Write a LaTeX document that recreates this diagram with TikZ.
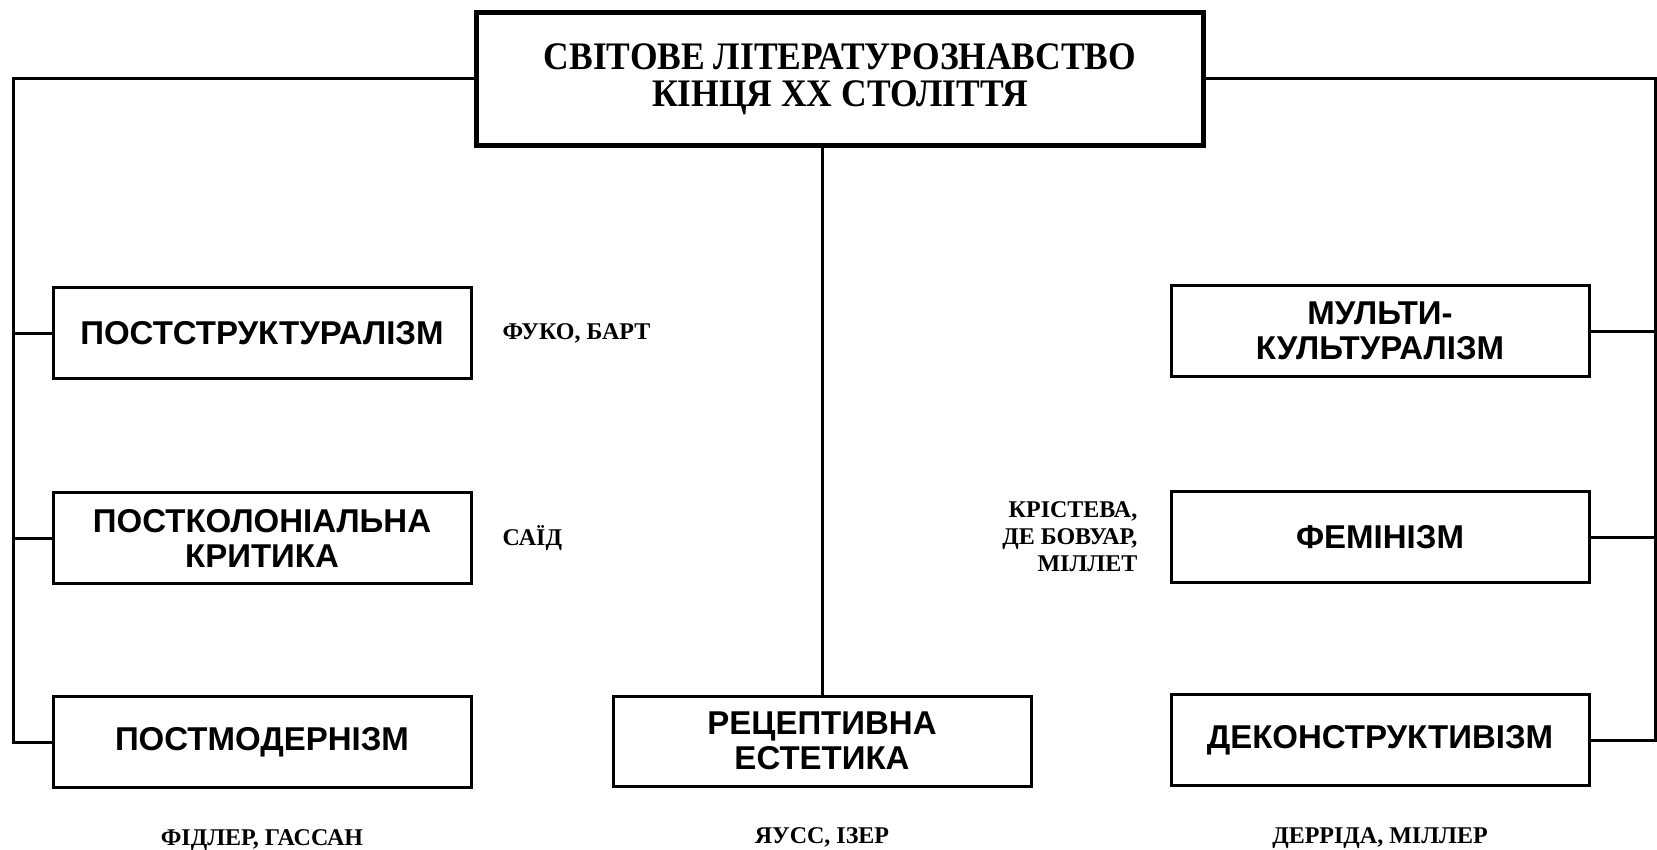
\documentclass[tikz,border=0pt]{standalone}
\usepackage{fontspec}
\setmainfont{Liberation Serif}
\newfontfamily\boxfont{Liberation Sans}
\newfontfamily\headfont[FakeStretch=0.91]{Liberation Serif}
\newfontfamily\namefont{Liberation Serif}
\usetikzlibrary{positioning}

\tikzset{
    school/.style={draw, line width=3pt, minimum width=418pt, minimum height=91pt,
        align=center, inner sep=0pt, font=\boxfont\bfseries\fontsize{33}{35}\selectfont},
    names/.style={inner sep=0pt, font=\namefont\bfseries\fontsize{24}{27}\selectfont},
    link/.style={line width=3pt}
}

\begin{document}
\begin{tikzpicture}[x=1pt, y=-1pt]
    \useasboundingbox (0,0) rectangle (1657,850);

    % top box
    \node[draw, line width=5pt, minimum width=727pt, minimum height=133pt, align=center,
          font=\headfont\bfseries\fontsize{39}{37}\selectfont] (title) at (840,79)
        {СВІТОВЕ ЛІТЕРАТУРОЗНАВСТВО\\КІНЦЯ ХХ СТОЛІТТЯ};

    % left column
    \node[school] (pstr) at (262,333) {ПОСТСТРУКТУРАЛІЗМ};
    \node[school] (pcol) at (262,538) {ПОСТКОЛОНІАЛЬНА\\КРИТИКА};
    \node[school] (pmod) at (262,742) {ПОСТМОДЕРНІЗМ};

    % middle
    \node[school, minimum height=90pt] (rec) at (822,741) {РЕЦЕПТИВНА\\ЕСТЕТИКА};

    % right column
    \node[school] (mult) at (1380,331) {МУЛЬТИ-\\КУЛЬТУРАЛІЗМ};
    \node[school] (fem) at (1380,537) {ФЕМІНІЗМ};
    \node[school] (dec) at (1380,740) {ДЕКОНСТРУКТИВІЗМ};

    % names
    \node[names, right=30pt of pstr] (foucault) {ФУКО, БАРТ};
    \node[names, right=30pt of pcol] (said) {САЇД};
    \node[names, left=32pt of fem, align=right] (kristeva)
        {КРІСТЕВА,\\ДЕ БОВУАР,\\МІЛЛЕТ};
    \node[names, below=40pt of pmod] (fiedler) {ФІДЛЕР, ГАССАН};
    \node[names, below=40pt of rec] (jauss) {ЯУСС, ІЗЕР};
    \node[names, below=40pt of dec] (derrida) {ДЕРРІДА, МІЛЛЕР};

    % connectors
    \coordinate (lbend) at (13,79);
    \coordinate (rbend) at (1655,79);
    \draw[link] (title.west) -- (lbend) |- (pmod.west);
    \draw[link] (lbend |- pstr.west) -- (pstr.west);
    \draw[link] (lbend |- pcol.west) -- (pcol.west);
    \draw[link] (title.east) -- (rbend) |- (dec.east);
    \draw[link] (rbend |- mult.east) -- (mult.east);
    \draw[link] (rbend |- fem.east) -- (fem.east);
    \draw[link] (title.south -| rec.north) -- (rec.north);
\end{tikzpicture}
\end{document}
